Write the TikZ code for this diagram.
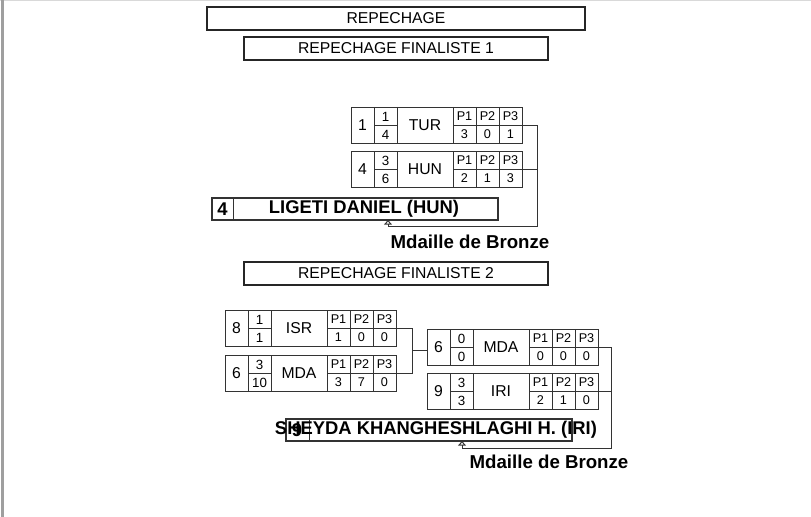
\documentclass[tikz,border=0pt]{standalone}
\usepackage{fontspec}
\setmainfont{Liberation Sans}
\usetikzlibrary{arrows.meta,calc}

% one row of a bout: name, corner, seed, two marks, country, three scores
\newcommand{\boutrow}[9]{%
  \begin{scope}[shift={(#2)}]
    \node[rowbox,anchor=north west] (#1) at (0,0) {};
    \draw[cell] (23,0) -- (23,36) (46,0) -- (46,36) (102,0) -- (102,36)
      (125,0) -- (125,36) (148,0) -- (148,36)
      (23,18) -- (46,18) (102,18) -- (171,18);
    \node[seedtxt] (#1-seed) at (11.5,18) {#3};
    \node[fractxt] (#1-up) at (34.5,9.5) {#4};
    \node[fractxt] (#1-down) at (34.5,27.5) {#5};
    \node[seedtxt] (#1-ctry) at (74,18) {#6};
    \node[smalltxt] (#1-ha) at (113.5,9.5) {P1};
    \node[smalltxt] (#1-hb) at (136.5,9.5) {P2};
    \node[smalltxt] (#1-hc) at (159.5,9.5) {P3};
    \node[smalltxt] (#1-pa) at (113.5,27.5) {#7};
    \node[smalltxt] (#1-pb) at (136.5,27.5) {#8};
    \node[smalltxt] (#1-pc) at (159.5,27.5) {#9};
  \end{scope}}

\begin{document}
\begin{tikzpicture}[x=0.75pt,y=-0.75pt,
  titlebox/.style={draw=black!85,line width=1.4pt,inner sep=0pt,
    font=\fontsize{11.8pt}{13pt}\selectfont},
  rowbox/.style={draw=black!80,line width=0.7pt,inner sep=0pt,outer sep=0pt,
    minimum width=128.25pt,minimum height=27pt},
  cell/.style={draw=black!80,line width=0.7pt},
  seedtxt/.style={inner sep=0pt,font=\fontsize{11.8pt}{13pt}\selectfont},
  fractxt/.style={inner sep=0pt,font=\fontsize{10pt}{11pt}\selectfont},
  smalltxt/.style={inner sep=0pt,font=\fontsize{9.5pt}{11pt}\selectfont},
  namebox/.style={draw=black!80,line width=0.8pt,inner sep=0pt,outer sep=0pt,
    minimum width=214.5pt,minimum height=16.5pt},
  nametxt/.style={inner sep=0pt,font=\fontsize{13.8pt}{15pt}\selectfont\bfseries},
  medal/.style={inner sep=0pt,font=\fontsize{14pt}{15pt}\selectfont\bfseries},
  link/.style={draw=black!80,line width=0.7pt},
  up/.style={-{Triangle[open,length=3.5pt,width=6pt]}}]
  \useasboundingbox (0,0) rectangle (811,517);
  \draw[gray!30,line width=0.8pt] (0,0.5) -- (811,0.5);
  \draw[gray!75,line width=1.5pt] (2.5,0) -- (2.5,517);

  % headings
  \node[titlebox,minimum width=283.5pt,minimum height=17.25pt] (rep) at (396,18.5) {REPECHAGE};
  \node[titlebox,minimum width=228pt,minimum height=17.25pt] (fin1) at (396,48.5) {REPECHAGE FINALISTE 1};
  \node[titlebox,minimum width=228pt,minimum height=17.25pt] (fin2) at (396,273.5) {REPECHAGE FINALISTE 2};

  % finalist 1
  \boutrow{tur}{351,107}{1}{1}{4}{TUR}{3}{0}{1}
  \boutrow{hun}{351,151}{4}{3}{6}{HUN}{2}{1}{3}
  \node[namebox,anchor=north west] (ligeti) at (212,198) {};
  \draw[cell] (233,198) -- (233,220);
  \node[nametxt] (ligeti-seed) at (222.5,209) {4};
  \node[nametxt] (ligeti-name) at (364,209) {LIGETI DANIEL (HUN)};
  \node[medal] (bronze1) at (470,242) {Mdaille de Bronze};
  \coordinate (r1) at (537,226);
  \coordinate (a1) at (388,226);
  \draw[link,up] (tur.east) -| (r1) -- (a1) -- (a1 |- ligeti.south);
  \draw[link] (hun.east) -- (hun.east -| r1);

  % finalist 2
  \boutrow{isr}{225,310}{8}{1}{1}{ISR}{1}{0}{0}
  \boutrow{mdaa}{225,355}{6}{3}{10}{MDA}{3}{7}{0}
  \boutrow{mdab}{427,329}{6}{0}{0}{MDA}{0}{0}{0}
  \boutrow{iri}{427,373}{9}{3}{3}{IRI}{2}{1}{0}
  \coordinate (j2) at (412,350.5);
  \draw[link] (isr.east) -| (j2);
  \draw[link] (mdaa.east) -| (j2) -- (j2 -| mdab.west);
  \node[namebox,anchor=north west] (sheyda) at (286,419) {};
  \draw[cell] (309,419) -- (309,441);
  \node[nametxt] (sheyda-seed) at (297,430) {9};
  \node[nametxt] (sheyda-name) at (436,430) {SHEYDA KHANGHESHLAGHI H. (IRI)};
  \node[medal] (bronze2) at (549,462) {Mdaille de Bronze};
  \coordinate (r2) at (611,448);
  \coordinate (a2) at (462,448);
  \draw[link,up] (mdab.east) -| (r2) -- (a2) -- (a2 |- sheyda.south);
  \draw[link] (iri.east) -- (iri.east -| r2);
\end{tikzpicture}
\end{document}
